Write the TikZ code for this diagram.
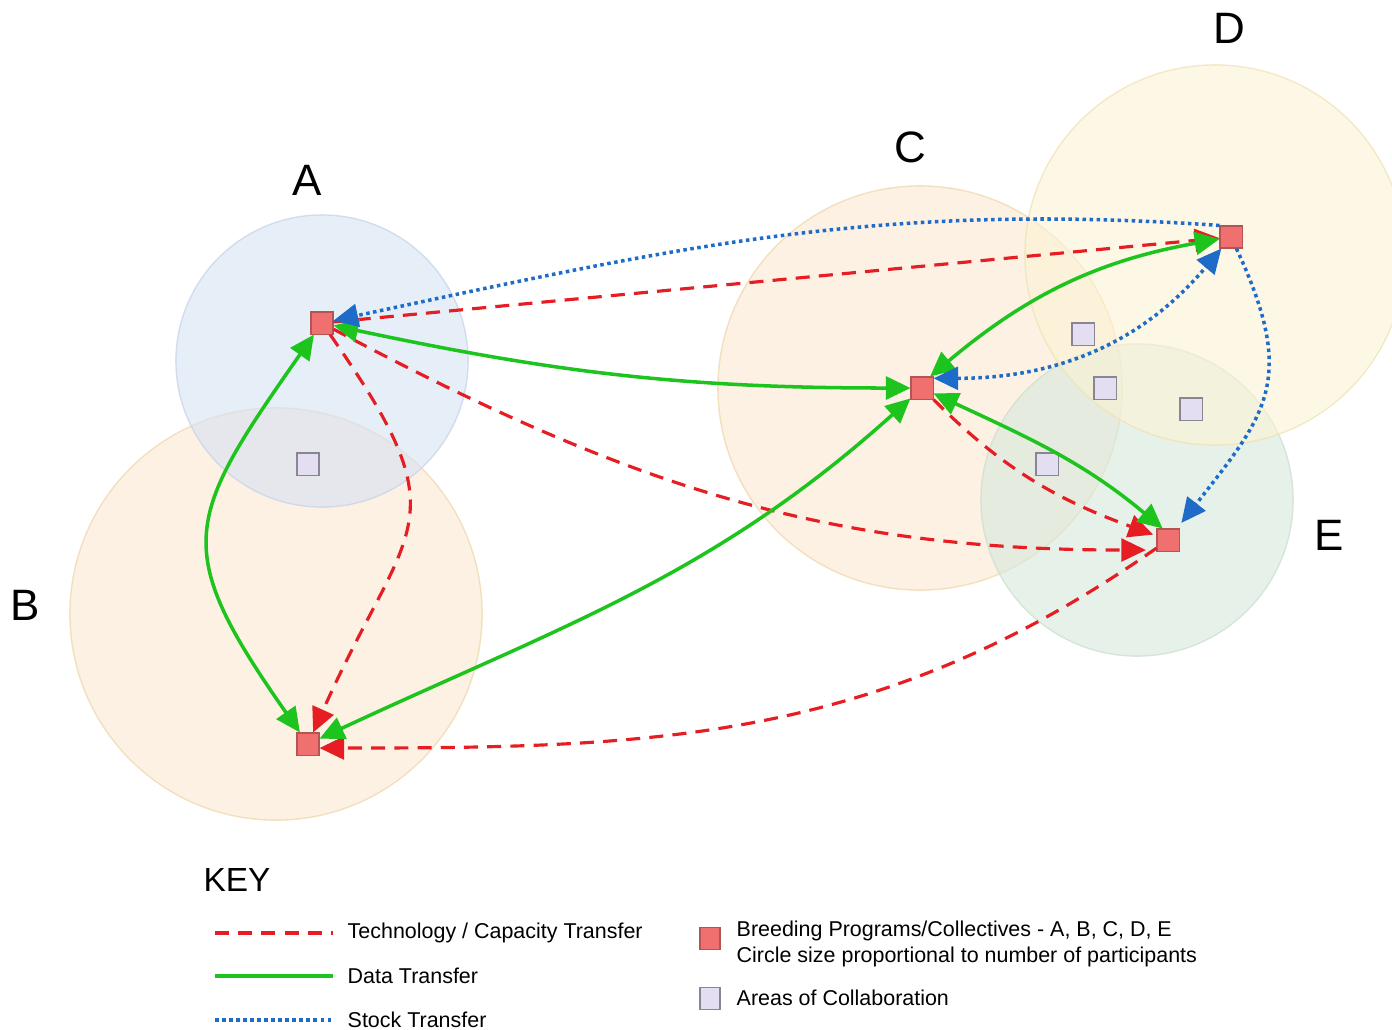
\documentclass[tikz,border=0pt]{standalone}
\usepackage{fontspec}
\setmainfont{Liberation Sans}
\usetikzlibrary{arrows.meta}
\usetikzlibrary{positioning}
\definecolor{techred}{RGB}{230,30,36}
\definecolor{datagreen}{RGB}{30,196,30}
\definecolor{stockblue}{RGB}{30,108,200}
\definecolor{progred}{RGB}{240,112,112}
\definecolor{collab}{RGB}{228,222,242}
\definecolor{zoneblue}{RGB}{214,226,244}
\definecolor{zoneorange}{RGB}{251,232,210}
\definecolor{zoneyellow}{RGB}{252,242,212}
\definecolor{zonegreen}{RGB}{214,232,220}
\tikzstyle{zone} = [circle, inner sep=0pt, line width=0.4pt,
    fill opacity=0.6, draw opacity=0.7]
\tikzstyle{prog} = [rectangle, draw=progred!75!black, fill=progred,
    minimum size=0.22cm, inner sep=0pt, line width=0.3pt]
\tikzstyle{area} = [rectangle, draw=collab!60!black, fill=collab,
    minimum size=0.22cm, inner sep=0pt, line width=0.3pt]
\tikzstyle{letter} = [font=\fontsize{12.5}{14}\selectfont]
\tikzstyle{keytext} = [anchor=west, inner sep=0pt,
    font=\fontsize{6.1}{7.4}\selectfont]
\tikzstyle{tech} = [draw=techred, line width=0.9pt,
    dash pattern=on 4pt off 2.6pt]
\tikzstyle{data} = [draw=datagreen, line width=1pt]
\tikzstyle{stock} = [draw=stockblue, line width=1pt,
    dash pattern=on 1pt off 1pt]

\begin{document}
\begin{tikzpicture}[x=0.01cm, y=-0.01cm,
    >={Triangle[length=7pt,width=6.5pt]}]
\useasboundingbox (0,0) rectangle (1392,1029);
% Place circles
\node [zone, fill=zoneorange, draw={rgb,255:red,238;green,214;blue,170}, minimum size=4.12cm] (zoneB) at (276,614) {};
\node [zone, fill=zoneblue, draw={rgb,255:red,198;green,210;blue,232}, minimum size=2.92cm] (zoneA) at (322,361) {};
\node [zone, fill=zoneorange, draw={rgb,255:red,238;green,214;blue,170}, minimum size=4.04cm] (zoneC) at (920,388) {};
\node [zone, fill=zonegreen, draw={rgb,255:red,204;green,222;blue,206}, minimum size=3.12cm] (zoneE) at (1137,500) {};
\node [zone, fill=zoneyellow, draw={rgb,255:red,238;green,226;blue,178}, minimum size=3.80cm] (zoneD) at (1215,255) {};

% Place labels
\node [letter] (labA) at (307,180) {A};
\node [letter] (labB) at (25,605) {B};
\node [letter] (labC) at (910,147) {C};
\node [letter] (labD) at (1229,28) {D};
\node [letter] (labE) at (1329,535) {E};

% Place collaboration areas
\node [area] (ab) at (308,464) {};
\node [area] (cd) at (1083,334) {};
\node [area] (cde) at (1105,388) {};
\node [area] (de) at (1191,409) {};
\node [area] (ce) at (1047,464) {};

% Place programs
\node [prog] (A) at (322,323) {};
\node [prog] (B) at (308,744) {};
\node [prog] (C) at (922,388) {};
\node [prog] (D) at (1231,237) {};
\node [prog] (E) at (1168,540) {};

% Draw edges
\path [tech, ->] (A) -- (D);
\path [tech, ->, shorten >=3pt] (A) to[out=-28, in=180] ([yshift=-1mm]E.west);
\path [tech, ->] (A) to[out=-55, in=66, looseness=1.5] (B);
\path [tech, ->, shorten >=1pt] (C) to[out=-45, in=160] (E);
\path [tech, ->] (E) to[out=-145, in=0] ([yshift=-0.4mm]B.east);

\path [data, <->] (A) to[out=-125, in=125, looseness=1.45] (B);
\path [data, <->] (A) to[out=-12, in=180] (C);
\path [data, <->] (B) to[out=25, in=-138] (C);
\path [data, <->] (C.55) to[out=40, in=190] (D);
\path [data, <->] (C) to[out=-25, in=140] (E.115);

\path [stock, ->] (D.135) to[out=176, in=12] (A);
\path [stock, <->] (C.40) to[out=0, in=-130] (D);
\path [stock, ->, shorten >=2pt] (D) to[out=-65, in=52, looseness=1.3] (E);

% Key
\node [font=\fontsize{9.5}{11}\selectfont] (key) at (237,880) {KEY};
\coordinate (k1a) at (215,933);
\coordinate (k1b) at (333,933);
\coordinate (k2a) at (215,976);
\coordinate (k2b) at (333,976);
\coordinate (k3a) at (215,1020);
\coordinate (k3b) at (331,1020);
\path [tech] (k1a) -- (k1b);
\path [data] (k2a) -- (k2b);
\path [stock] (k3a) -- (k3b);
\node [keytext, right=0.14cm of k1b] (ktech) {Technology / Capacity Transfer};
\node [keytext, right=0.14cm of k2b] (kdata) {Data Transfer};
\node [keytext, right=0.16cm of k3b] (kstock) {Stock Transfer};
\node [prog, minimum width=0.2cm] (kprog) at (710,938) {};
\node [area, minimum width=0.2cm] (karea) at (710,998) {};
\node [keytext] (kprogA) at (736,931) {Breeding Programs/Collectives - A, B, C, D, E};
\node [keytext] (kprogB) at (736,957) {Circle size proportional to number of participants};
\node [keytext] (kareaT) at (736,998) {Areas of Collaboration};

\end{tikzpicture}
\end{document}
